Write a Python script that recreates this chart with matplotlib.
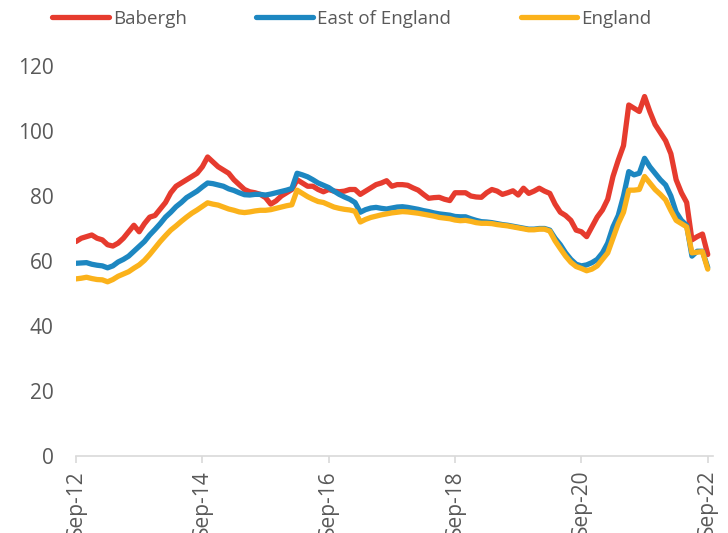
import matplotlib
matplotlib.use("Agg")
import matplotlib.pyplot as plt

# monthly index, Sep-12 .. Sep-22
babergh = [66, 67, 67.5, 68, 67, 66.5, 65, 64.6, 65.5, 67, 69, 71, 69, 71.5, 73.5, 74, 76, 78, 81, 83, 84, 85, 86, 87, 89,
           92, 90.5, 89, 88, 87, 85, 83.5, 82, 81.3, 81, 80.5, 79.5, 77.5, 78.5, 80, 81, 82, 85, 84, 83, 83, 82, 81.3, 82,
           81.5, 81.3, 81.5, 82, 82, 80.5, 81.5, 82.5, 83.5, 84, 84.7, 83, 83.5, 83.5, 83.3, 82.5, 81.8, 80.5, 79.3, 79.5, 79.6, 79, 78.6, 81,
           81, 81, 80, 79.7, 79.6, 81, 82, 81.5, 80.5, 81, 81.6, 80.3, 82.4, 80.8, 81.5, 82.4, 81.5, 80.8, 77.5, 75, 74, 72.5, 69.5, 69,
           67.5, 70.5, 73.5, 75.7, 79, 86, 91, 95.5, 108, 107, 106, 110.6, 106, 102, 99.5, 97, 93, 85, 81, 78, 66.5, 67.5, 68.3, 62]

east = [59.3, 59.4, 59.5, 59, 58.7, 58.5, 57.9, 58.5, 59.7, 60.5, 61.5, 63, 64.5, 66, 68, 69.7, 71.5, 73.5, 75, 76.7, 78, 79.5, 80.5, 81.5, 82.8,
        84, 83.8, 83.4, 83, 82.2, 81.7, 81, 80.4, 80.3, 80.5, 80.5, 80.3, 80.6, 81, 81.4, 81.8, 82.3, 87, 86.5, 85.9, 85, 84, 83.3, 82.6,
        81.5, 80.5, 79.7, 79, 78, 75, 75.8, 76.3, 76.5, 76.2, 76, 76.3, 76.6, 76.7, 76.5, 76.2, 75.9, 75.5, 75.2, 74.8, 74.5, 74.3, 74.1, 73.7,
        73.6, 73.6, 73, 72.5, 72.1, 72, 71.8, 71.5, 71.2, 71, 70.7, 70.4, 70.1, 69.8, 69.8, 70, 70, 69.5, 67, 65, 62.5, 60.5, 59, 58.5,
        58.8, 59.5, 60.5, 62.5, 65.5, 70.5, 74, 80, 87.5, 86.5, 87, 91.6, 89, 87, 85, 83.4, 80, 75, 72.5, 71, 61.5, 63, 63, 58]

england = [54.5, 54.7, 55, 54.6, 54.3, 54.2, 53.6, 54.3, 55.3, 56, 56.7, 57.8, 58.8, 60.2, 62, 64, 66, 67.8, 69.5, 70.8, 72.2, 73.5, 74.7, 75.7, 76.8,
           77.9, 77.5, 77.2, 76.6, 76, 75.6, 75.1, 74.9, 75.1, 75.4, 75.6, 75.6, 75.8, 76.2, 76.6, 77, 77.3, 81.8, 80.8, 79.8, 79, 78.3, 78, 77.3,
           76.6, 76.2, 75.9, 75.7, 75.3, 72, 72.8, 73.4, 73.8, 74.2, 74.5, 74.8, 75, 75.2, 75.1, 74.9, 74.7, 74.4, 74.1, 73.8, 73.4, 73.2, 73, 72.6,
           72.4, 72.5, 72.2, 71.8, 71.6, 71.6, 71.5, 71.2, 71, 70.8, 70.5, 70.2, 69.9, 69.6, 69.6, 69.8, 69.8, 69.2, 66.2, 63.8, 61.5, 59.6, 58.3, 57.7,
           57, 57.5, 58.5, 60.5, 62.5, 67, 71.5, 75, 81.8, 81.8, 82, 86, 84, 82, 80.5, 78.8, 75.5, 72.5, 71.5, 70.5, 62.5, 62.7, 62.9, 57.5]

tick_pos = [0, 24, 48, 72, 96, 120]
tick_labels = ["Sep-12", "Sep-14", "Sep-16", "Sep-18", "Sep-20", "Sep-22"]

months = list(range(len(babergh)))
grey = "#595959"

fig = plt.figure(figsize=(7.28, 5.33), dpi=100)
ax = fig.add_axes([76/728, 1-456/533, (713-76)/728, (456-66)/533])

ax.plot(months, babergh, color="#E63B2E", lw=3.8, label="Babergh", solid_capstyle="round")
ax.plot(months, east, color="#1D87C1", lw=3.8, label="East of England", solid_capstyle="round")
ax.plot(months, england, color="#FBB21B", lw=3.8, label="England", solid_capstyle="round")

ax.set_xlim(0, 121)
ax.set_ylim(0, 120)
ax.set_yticks(range(0, 121, 20))
ax.set_xticks(tick_pos)
ax.set_xticklabels(tick_labels, rotation=90, fontsize=15, color=grey, family="Open Sans")
for t in ax.get_yticklabels():
    t.set_fontsize(15)
    t.set_color(grey)
    t.set_family("Open Sans")

for s in ["top", "right", "left"]:
    ax.spines[s].set_visible(False)
ax.spines["bottom"].set_color("#D9D9D9")
ax.spines["bottom"].set_linewidth(1.2)
ax.tick_params(axis="y", length=0, pad=16)
ax.tick_params(axis="x", length=5, color="#D9D9D9", width=1.2, pad=5)

fig.legend(loc="center", bbox_to_anchor=(352/728, 1-19/533), ncol=3, frameon=False,
           handlelength=3.0, handletextpad=0.25, columnspacing=3.7,
           prop={"family": "Open Sans", "size": 13.5}, labelcolor=grey)

fig.savefig("out.png", dpi=100)
